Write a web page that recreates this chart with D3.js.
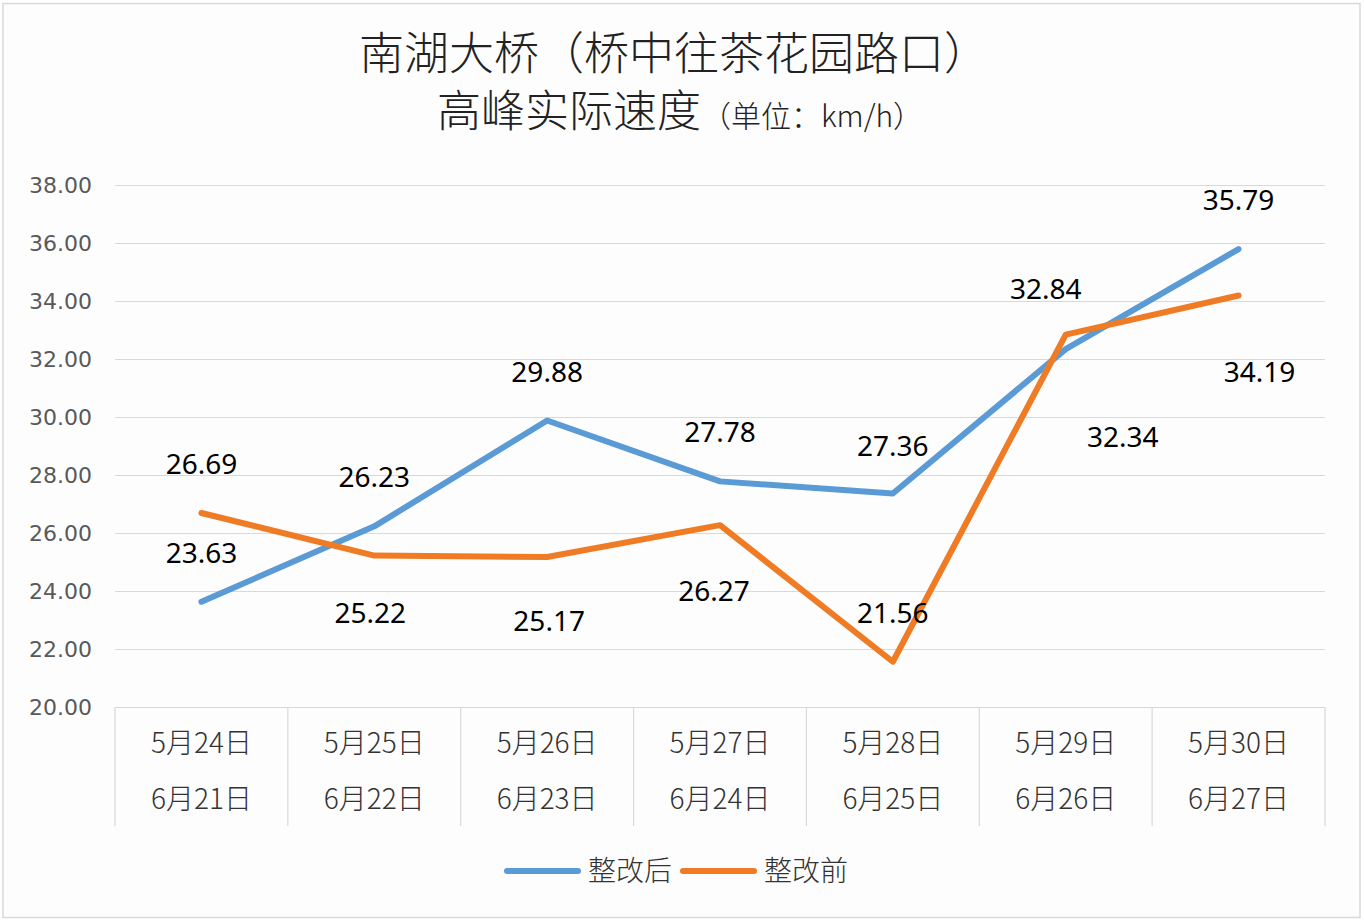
<html>
<head>
    <meta charset="utf-8">
    <title>南湖大桥高峰实际速度</title>
    <script src="https://d3js.org/d3.v7.min.js"></script>
    <style>
        body { margin: 0; background: #fff; }
    </style>
</head>
<body>
<div id="chart"></div>

<script>
    // data
    var datesTop = ["5月24日", "5月25日", "5月26日", "5月27日", "5月28日", "5月29日", "5月30日"];
    var datesBottom = ["6月21日", "6月22日", "6月23日", "6月24日", "6月25日", "6月26日", "6月27日"];
    var afterValues = [23.63, 26.23, 29.88, 27.78, 27.36, 32.34, 35.79];   // 整改后
    var beforeValues = [26.69, 25.22, 25.17, 26.27, 21.56, 32.84, 34.19];  // 整改前
    var yTicks = [20, 22, 24, 26, 28, 30, 32, 34, 36, 38];
    var seriesNames = ["整改后", "整改前"];

    // layout: label centre offsets from the point (px), as placed in the original
    var afterLabelOffsets = [[0, -49], [0, -49], [0, -49], [0, -49], [0, -48], [57, 88], [0, -49]];
    var beforeLabelOffsets = [[0, -49], [-4, 57], [2, 64], [-6, 66], [0, -49], [-20, -46], [21, 76]];

    var width = 1364,
        height = 920,
        plotLeft = 115,
        plotRight = 1325,
        plotTop = 185,
        plotBottom = 707,
        blue = "#5b9bd5",
        orange = "#ef7b25",
        gridColor = "#d9d9d9",
        cjk = "'Noto Sans CJK SC', 'Noto Sans', sans-serif";

    var svg = d3.select("#chart").append("svg")
        .attr("width", width)
        .attr("height", height);

    // chart area border
    svg.append("rect")
        .attr("x", 3)
        .attr("y", 3.5)
        .attr("width", 1357)
        .attr("height", 914)
        .attr("fill", "#fefdfe")
        .attr("stroke", gridColor)
        .attr("stroke-width", 1.5);

    // title, two lines
    svg.append("text")
        .attr("x", 674)
        .attr("y", 70)
        .attr("text-anchor", "middle")
        .attr("font-family", cjk)
        .attr("font-weight", 300)
        .attr("font-size", 45)
        .attr("fill", "#222")
        .text("南湖大桥（桥中往茶花园路口）");
    var line2 = svg.append("text")
        .attr("x", 680)
        .attr("y", 127)
        .attr("text-anchor", "middle")
        .attr("font-family", cjk)
        .attr("font-weight", 300)
        .attr("fill", "#222");
    line2.append("tspan").attr("font-size", 44).text("高峰实际速度");
    line2.append("tspan").attr("font-size", 30).text("（单位：km/h）");

    var x = d3.scaleBand()
        .domain(datesTop)
        .range([plotLeft, plotRight])
        .padding(0);

    var y = d3.scaleLinear()
        .domain([20, 38])
        .range([plotBottom, plotTop]);

    function cx(i) {
        return x(datesTop[i]) + x.bandwidth() / 2;
    }

    // gridlines + y tick labels
    var yAxis = svg.append("g")
        .attr("transform", "translate(" + plotLeft + ",0)")
        .call(d3.axisLeft(y)
            .tickValues(yTicks)
            .tickSize(-(plotRight - plotLeft))
            .tickPadding(23)
            .tickFormat(d3.format(".2f")));
    yAxis.select(".domain").remove();
    yAxis.selectAll(".tick line")
        .attr("stroke", gridColor)
        .attr("stroke-width", 1.2);
    yAxis.selectAll(".tick text")
        .attr("font-family", "'DejaVu Sans', sans-serif")
        .attr("font-size", 22)
        .attr("fill", "#595959");

    // category separators (multi-level axis)
    var bounds = datesTop.map(function (d) { return x(d); }).concat([plotRight]);
    svg.append("g").selectAll("line")
        .data(bounds)
        .enter().append("line")
        .attr("x1", function (d) { return d; })
        .attr("x2", function (d) { return d; })
        .attr("y1", plotBottom)
        .attr("y2", 826)
        .attr("stroke", gridColor)
        .attr("stroke-width", 1.2);

    var cats = svg.append("g")
        .attr("font-family", cjk)
        .attr("font-weight", 300)
        .attr("font-size", 28)
        .attr("fill", "#333")
        .attr("text-anchor", "middle");
    cats.selectAll(".top")
        .data(datesTop)
        .enter().append("text")
        .attr("class", "top")
        .attr("x", function (d) { return x(d) + x.bandwidth() / 2; })
        .attr("y", 753)
        .text(function (d) { return d; });
    cats.selectAll(".bottom")
        .data(datesBottom)
        .enter().append("text")
        .attr("class", "bottom")
        .attr("x", function (d, i) { return cx(i); })
        .attr("y", 809)
        .text(function (d) { return d; });

    // lines
    var line = d3.line()
        .x(function (d, i) { return cx(i); })
        .y(function (d) { return y(d); });

    var series = [
        { name: seriesNames[0], values: afterValues, color: blue, offsets: afterLabelOffsets },
        { name: seriesNames[1], values: beforeValues, color: orange, offsets: beforeLabelOffsets }
    ];

    svg.append("g").selectAll("path")
        .data(series)
        .enter().append("path")
        .attr("d", function (s) { return line(s.values); })
        .attr("fill", "none")
        .attr("stroke", function (s) { return s.color; })
        .attr("stroke-width", 6)
        .attr("stroke-linecap", "round")
        .attr("stroke-linejoin", "round");

    // data labels
    series.forEach(function (s) {
        svg.append("g").selectAll("text")
            .data(s.values)
            .enter().append("text")
            .attr("x", function (d, i) { return cx(i) + s.offsets[i][0]; })
            .attr("y", function (d, i) { return y(d) + s.offsets[i][1]; })
            .attr("dy", "0.36em")
            .attr("text-anchor", "middle")
            .attr("font-family", "'Noto Sans', sans-serif")
            .attr("font-size", 28)
            .attr("fill", "#000")
            .text(function (d) { return d3.format(".2f")(d); });
    });

    // legend
    var legendX = [507, 683];
    var legend = svg.append("g").selectAll("g")
        .data(series)
        .enter().append("g")
        .attr("transform", function (d, i) { return "translate(" + legendX[i] + ",871)"; });
    legend.append("line")
        .attr("x1", 0)
        .attr("x2", 71)
        .attr("stroke", function (d) { return d.color; })
        .attr("stroke-width", 6)
        .attr("stroke-linecap", "round");
    legend.append("text")
        .attr("x", 81)
        .attr("dy", "0.36em")
        .attr("font-family", cjk)
        .attr("font-weight", 300)
        .attr("font-size", 28)
        .attr("fill", "#333")
        .text(function (d) { return d.name; });
</script>
</body>
</html>
